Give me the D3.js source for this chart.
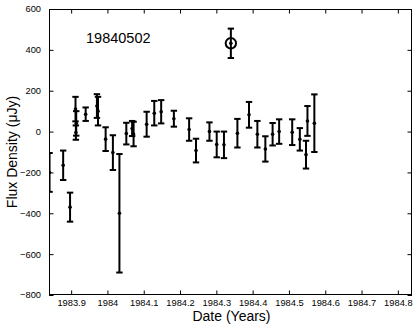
<!DOCTYPE html>
<html>
<head>
<meta charset="utf-8">
<script src="https://cdn.jsdelivr.net/npm/d3@7/dist/d3.min.js"></script>
<style>
  html, body { margin: 0; padding: 0; background: #fff; }
  svg { display: block; font-family: "Liberation Sans", Arial, Helvetica, sans-serif; }
</style>
</head>
<body>
<svg id="chart" width="415" height="326"></svg>
<script>
// ---- data ----
const years = [1983.8405, 1983.878, 1983.897, 1983.912, 1983.914, 1983.913, 1983.940, 1983.971, 1983.974,
  1983.995, 1984.015, 1984.033, 1984.052, 1984.068, 1984.072, 1984.108, 1984.129, 1984.148, 1984.183,
  1984.225, 1984.244, 1984.281, 1984.301, 1984.321, 1984.358, 1984.390, 1984.413, 1984.435, 1984.455,
  1984.473, 1984.509, 1984.530, 1984.547, 1984.551, 1984.570];
const flux = [-200, -165, -370, 110, 40, -5, 85, 125, 100,
  -37, -103, -400, -10, 15, -12, 36, 90, 97, 63,
  10, -93, 0, -63, -65, -8, 82, -13, -85, -13,
  0, -3, -38, -113, 52, 41];
const fluxErr = [95, 72, 71, 60, 60, 35, 33, 58, 70,
  58, 85, 290, 53, 37, 60, 61, 60, 57, 39,
  55, 58, 45, 63, 65, 70, 63, 65, 62, 55,
  60, 63, 55, 68, 73, 141];
const flareYear = [1984.340];
const flareFlux = [432];
const flareErr = [72];
const xTicks = [1983.9, 1984, 1984.1, 1984.2, 1984.3, 1984.4, 1984.5, 1984.6, 1984.7, 1984.8];
const yTicks = [-800, -600, -400, -200, 0, 200, 400, 600];
const label = "19840502";

// ---- layout ----
const L = 49, R = 412, T = 9, B = 295;
const svg = d3.select("#chart");
const x = d3.scaleLinear().domain([1983.839, 1984.839]).range([L, R]);
const y = d3.scaleLinear().domain([-800, 600]).range([B, T]);

// clip
svg.append("defs").append("clipPath").attr("id", "clip")
  .append("rect").attr("x", L).attr("y", T).attr("width", R - L).attr("height", B - T);

// axes (MATLAB style: inward ticks on all sides)
const tl = 4.5;
const fmtX = d => String(+d.toFixed(1));
svg.append("g").attr("transform", `translate(0,${B})`)
  .call(d3.axisBottom(x).tickValues(xTicks).tickFormat(fmtX).tickSizeInner(-tl).tickSizeOuter(0).tickPadding(4));
svg.append("g").attr("transform", `translate(0,${T})`)
  .call(d3.axisTop(x).tickValues(xTicks).tickFormat("").tickSizeInner(-tl).tickSizeOuter(0));
svg.append("g").attr("transform", `translate(${L},0)`)
  .call(d3.axisLeft(y).tickValues(yTicks).tickFormat(d => d < 0 ? "\u2212" + Math.abs(d) : d).tickSizeInner(-tl).tickSizeOuter(0).tickPadding(8));
svg.append("g").attr("transform", `translate(${R},0)`)
  .call(d3.axisRight(y).tickValues(yTicks).tickFormat("").tickSizeInner(-tl).tickSizeOuter(0));
svg.selectAll(".domain").remove();
svg.selectAll(".tick line").attr("stroke", "#000").attr("stroke-width", 1);
svg.selectAll(".tick text").attr("font-size", 9.3).attr("fill", "#000")
  .attr("font-family", "Liberation Sans, Arial, sans-serif");
svg.append("rect").attr("x", L + 0.5).attr("y", T + 0.5).attr("width", R - L - 1).attr("height", B - T - 1)
  .attr("fill", "none").attr("stroke", "#000").attr("stroke-width", 1);

// error bars
const g = svg.append("g").attr("clip-path", "url(#clip)");
const capW = 3.2;
const data = years.map((yr, i) => ({ yr, v: flux[i], e: fluxErr[i] }));
const flare = flareYear.map((yr, i) => ({ yr, v: flareFlux[i], e: flareErr[i] }));
function drawBars(sel, arr) {
  const gg = sel.selectAll(null).data(arr).enter().append("g");
  gg.append("line").attr("x1", d => x(d.yr)).attr("x2", d => x(d.yr))
    .attr("y1", d => y(d.v + d.e)).attr("y2", d => y(d.v - d.e))
    .attr("stroke", "#000").attr("stroke-width", 2);
  gg.append("line").attr("x1", d => x(d.yr) - capW).attr("x2", d => x(d.yr) + capW)
    .attr("y1", d => y(d.v + d.e)).attr("y2", d => y(d.v + d.e))
    .attr("stroke", "#000").attr("stroke-width", 2);
  gg.append("line").attr("x1", d => x(d.yr) - capW).attr("x2", d => x(d.yr) + capW)
    .attr("y1", d => y(d.v - d.e)).attr("y2", d => y(d.v - d.e))
    .attr("stroke", "#000").attr("stroke-width", 2);
  gg.append("circle").attr("cx", d => x(d.yr)).attr("cy", d => y(d.v)).attr("r", 1.8).attr("fill", "#000");
  return gg;
}
drawBars(g, data);
const fg = drawBars(g, flare);
fg.append("circle").attr("cx", d => x(d.yr)).attr("cy", d => y(d.v)).attr("r", 5.2)
  .attr("fill", "none").attr("stroke", "#000").attr("stroke-width", 2);

// labels
svg.append("text").attr("x", 86).attr("y", 42.5).attr("font-size", 14.5).attr("fill", "#000").text(label);
svg.append("text").attr("x", (L + R) / 2 + 1).attr("y", 320.5).attr("text-anchor", "middle")
  .attr("font-size", 14).attr("fill", "#000").text("Date (Years)");
svg.append("text").attr("transform", `translate(17,${(T + B) / 2}) rotate(-90)`).attr("text-anchor", "middle")
  .attr("font-size", 14).attr("fill", "#000").text("Flux Density (\u03bcJy)");
</script>
</body>
</html>
